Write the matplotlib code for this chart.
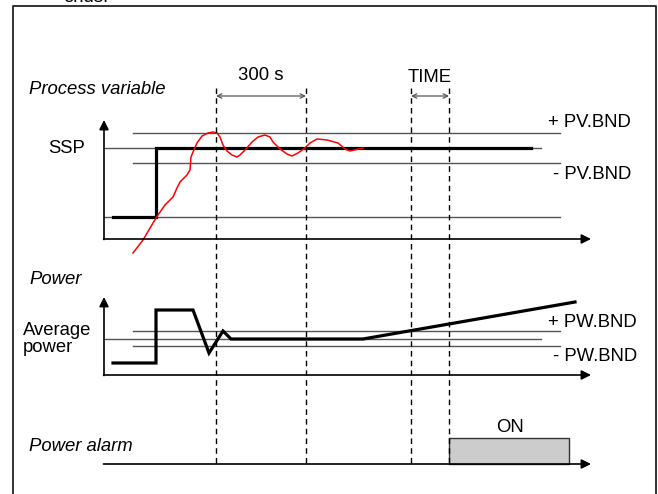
import matplotlib
matplotlib.use('Agg')
import matplotlib.pyplot as plt

# schematic drawn in a pixel-like frame: x = time, y = screen row (down is larger)
plt.rcParams['font.family'] = ['Liberation Sans', 'DejaVu Sans']

# --- process variable panel ---
pv_axis_y = 239
ssp_y = 148
pv_band_hi = 133
pv_band_lo = 163
pv_start_y = 217
setpoint_t = [113, 156, 156, 531]
setpoint_y = [217, 217, 148, 148]
pv_t = [133, 143, 153, 158, 165, 173, 177, 180, 187, 190, 191, 193, 197, 202, 208,
        213, 217, 220, 223, 227, 232, 237, 240, 246, 252, 258, 265, 270, 273, 280,
        287, 292, 298, 305, 310, 317, 327, 338, 345, 350, 363]
pv_y = [253, 240, 223, 215, 205, 197, 188, 182, 175, 170, 157, 152, 143, 136, 133,
        132, 133, 137, 145, 151, 155, 157, 155, 149, 142, 137, 135, 137, 142, 149,
        154, 156, 153, 148, 143, 139, 140, 143, 149, 151, 148]

# --- power panel ---
pw_axis_y = 375
pw_avg_y = 339
pw_band_hi = 331
pw_band_lo = 346
power_t = [113, 156, 156, 193, 209, 223, 231, 363, 575]
power_y = [363, 363, 310, 310, 353, 331, 339, 339, 302]

# --- power alarm panel ---
alarm_axis_y = 464
alarm_on = (449, 569)
alarm_top = 438

# event markers
marks_t = [216, 306, 411, 449]

fig = plt.figure(figsize=(6.58, 4.94), dpi=100)
ax = fig.add_axes([0, 0, 1, 1])
ax.set_xlim(0, 658)
ax.set_ylim(494, 0)
ax.axis('off')

fs = 13.3
thin = dict(color='#555555', lw=1.0)
arrow_kw = dict(arrowstyle='-|>', color='black', lw=1.2,
                mutation_scale=14, shrinkA=0, shrinkB=0)
span_kw = dict(arrowstyle='<->', color='#555555', lw=0.9,
               mutation_scale=8, shrinkA=0, shrinkB=0)

# frame (page continues above, only the tail of the previous line shows)
ax.plot([13, 13, 656, 656], [494, 6, 6, 494], color='#222222', lw=1.3)
ax.text(63, 2, 'ends.', fontsize=fs, va='baseline', ha='left')


def time_axis(y0, ytop=None):
    if ytop is not None:
        ax.annotate('', xy=(104, ytop), xytext=(104, y0 + 0.5), arrowprops=arrow_kw)
    ax.annotate('', xy=(591, y0), xytext=(103.5, y0), arrowprops=arrow_kw)


# process variable
time_axis(pv_axis_y, 120)
ax.plot([104, 541], [ssp_y, ssp_y], **thin)
ax.plot([133, 560], [pv_band_hi, pv_band_hi], **thin)
ax.plot([133, 560], [pv_band_lo, pv_band_lo], **thin)
ax.plot([104, 560], [pv_start_y, pv_start_y], **thin)
ax.plot(setpoint_t, setpoint_y, color='black', lw=2.3, solid_joinstyle='miter')
ax.plot(pv_t, pv_y, color='red', lw=1.1)
ax.text(29, 89, 'Process variable', fontsize=fs, style='italic', va='center')
ax.text(67, 148, 'SSP', fontsize=fs, va='center', ha='center')
ax.text(548, 122, '+ PV.BND', fontsize=fs, va='center')
ax.text(553, 174, '- PV.BND', fontsize=fs, va='center')

# power
time_axis(pw_axis_y, 297)
ax.plot([104, 541], [pw_avg_y, pw_avg_y], **thin)
ax.plot([133, 560], [pw_band_hi, pw_band_hi], **thin)
ax.plot([133, 560], [pw_band_lo, pw_band_lo], **thin)
ax.plot(power_t, power_y, color='black', lw=2.3, solid_joinstyle='miter')
ax.text(29, 279, 'Power', fontsize=fs, style='italic', va='center')
ax.text(23, 339, 'Average\npower', fontsize=fs, va='center', linespacing=1.05)
ax.text(548, 322, '+ PW.BND', fontsize=fs, va='center')
ax.text(553, 356, '- PW.BND', fontsize=fs, va='center')

# power alarm
time_axis(alarm_axis_y)
ax.fill_between(alarm_on, alarm_top, alarm_axis_y, facecolor='#cccccc',
                edgecolor='#333333', lw=1.0)
ax.text(510, 427, 'ON', fontsize=fs, ha='center', va='center')
ax.text(29, 446, 'Power alarm', fontsize=fs, style='italic', va='center')

# dashed markers and intervals
for t in marks_t:
    ax.plot([t, t], [88, 466], color='black', lw=1.0, ls=(0, (4, 3)))
ax.annotate('', xy=(marks_t[0], 96), xytext=(marks_t[1], 96), arrowprops=span_kw)
ax.annotate('', xy=(marks_t[2], 96), xytext=(marks_t[3], 96), arrowprops=span_kw)
ax.text(261, 76, '300 s', fontsize=fs, ha='center', va='center')
ax.text(430, 78, 'TIME', fontsize=fs, ha='center', va='center')

fig.savefig('out.png', dpi=100)
